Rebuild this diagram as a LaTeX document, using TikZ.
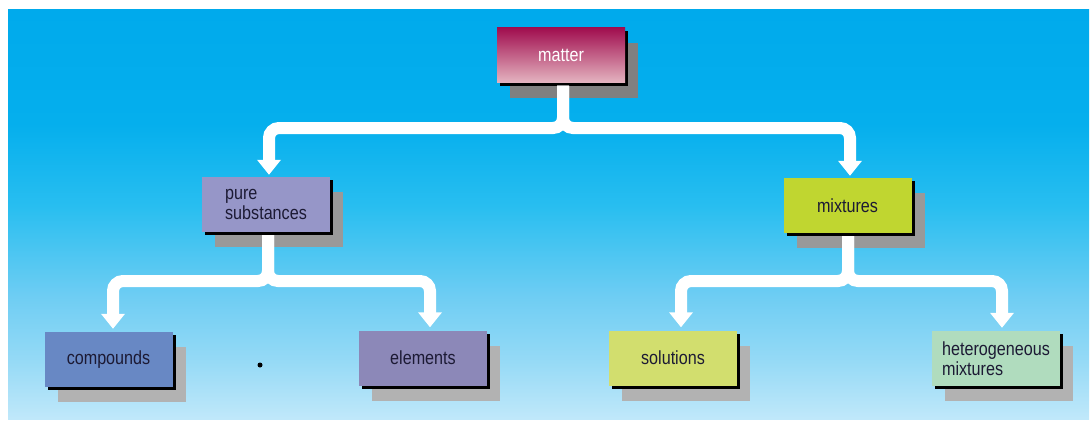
\documentclass[tikz,border=0pt]{standalone}
\usepackage{fontspec}
\setmainfont{Liberation Sans}[FakeStretch=0.85]
\usetikzlibrary{arrows.meta,shadows,calc}
\definecolor{bgA}{RGB}{0,170,236}
\definecolor{bgB}{RGB}{5,175,237}
\definecolor{bgC}{RGB}{40,190,240}
\definecolor{bgD}{RGB}{110,205,243}
\definecolor{bgE}{RGB}{150,218,246}
\definecolor{bgF}{RGB}{192,232,250}
\definecolor{txt}{RGB}{28,26,52}
\definecolor{mtop}{RGB}{160,12,78}
\definecolor{mbot}{RGB}{228,180,192}
\definecolor{cpure}{RGB}{150,150,200}
\definecolor{cmix}{RGB}{192,214,48}
\definecolor{ccomp}{RGB}{104,136,196}
\definecolor{celem}{RGB}{140,136,184}
\definecolor{csol}{RGB}{210,222,110}
\definecolor{chet}{RGB}{176,220,190}
\definecolor{shA}{RGB}{128,128,128}
\definecolor{shB}{RGB}{153,153,153}
\definecolor{shC}{RGB}{178,178,178}
\pgfdeclareverticalshading{bgshade}{100bp}{color(0bp)=(bgF); color(25bp)=(bgF); color(32bp)=(bgE); color(40bp)=(bgD); color(51bp)=(bgC); color(61bp)=(bgB); color(75bp)=(bgA); color(100bp)=(bgA)}
\begin{document}
\begin{tikzpicture}[x=1pt,y=-1pt,
  box/.style={rectangle, minimum width=128pt, minimum height=55pt, inner sep=0pt,
    align=left, font=\fontsize{19}{20}\selectfont, text=txt,
    general shadow={fill=#1, shadow xshift=13pt, shadow yshift=-15pt},
    general shadow={fill=black, shadow xshift=3pt, shadow yshift=-3pt}},
  box/.default=shC,
  conn/.style={draw=white, line width=12pt, rounded corners=10pt,
    -{Triangle[width=23pt,length=15pt]}}]
\useasboundingbox (0,0) rectangle (1091,421);
\shade[shading=bgshade] (8,9) rectangle (1089,419);
% boxes
\node[box=shA, top color=mtop, bottom color=mbot, text=white] (matter) at (561,55) {matter};
\node[box=shB, fill=cpure] (pure) at (266,204.5) {pure\\substances};
\node[box=shB, fill=cmix] (mixtures) at (847.5,205.5) {mixtures};
\node[box, fill=ccomp] (compounds) at (108.5,359.5) {compounds};
\node[box, fill=celem] (elements) at (423,358) {elements};
\node[box, fill=csol] (solutions) at (673,358) {solutions};
\node[box, fill=chet] (hetero) at (996,358.5) {heterogeneous\\mixtures};
\node[circle, fill=black, inner sep=0pt, minimum size=5pt] (dot) at (260,365) {};
% connectors
\coordinate (j1) at (563,128);
\coordinate (j2) at (268,281);
\coordinate (j3) at (848,281);
\draw[conn] ($(matter.south)+(2,3)$) -- (j1) -| ($(pure.north)+(3,-2)$);
\draw[conn] ($(matter.south)+(2,3)$) -- (j1) -| ($(mixtures.north)+(2.5,-2)$);
\draw[conn] ($(pure.south)+(2,3)$) -- (j2) -| ($(compounds.north)+(4.5,-3)$);
\draw[conn] ($(pure.south)+(2,3)$) -- (j2) -| ($(elements.north)+(7,-3)$);
\draw[conn] ($(mixtures.south)+(0.5,3)$) -- (j3) -| ($(solutions.north)+(8,-3)$);
\draw[conn] ($(mixtures.south)+(0.5,3)$) -- (j3) -| ($(hetero.north)+(6,-3)$);
\end{tikzpicture}
\end{document}
